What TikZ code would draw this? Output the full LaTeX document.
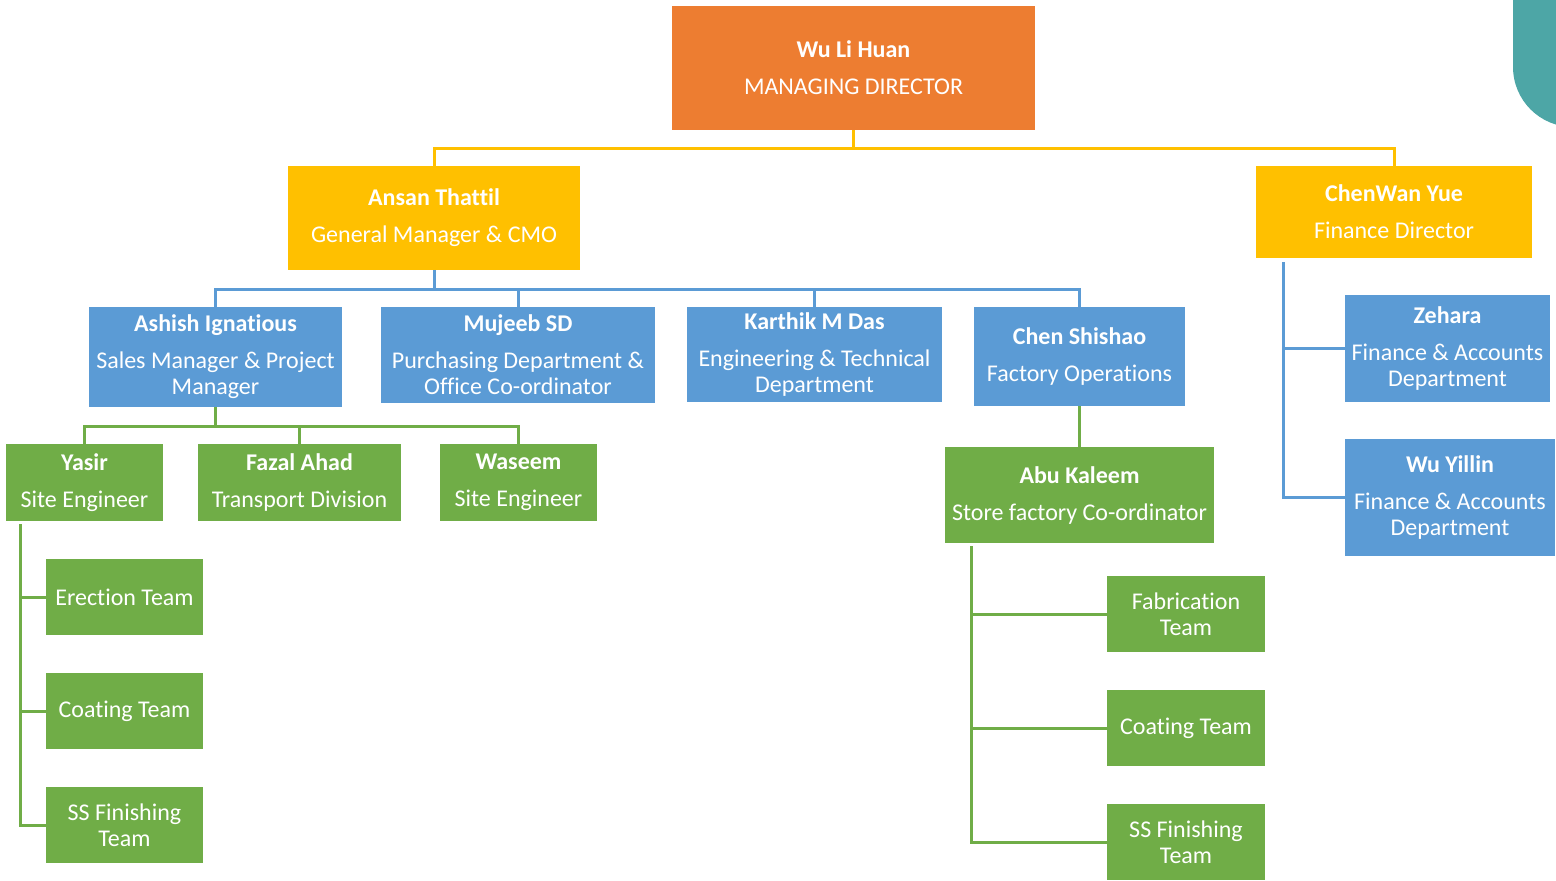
\documentclass[tikz,border=0pt]{standalone}
\usepackage{fontspec}
\setmainfont[Ligatures=NoCommon]{Carlito}
\usepackage{xcolor}
\definecolor{orgorange}{HTML}{ED7D31}
\definecolor{orgyellow}{HTML}{FFC000}
\definecolor{orgblue}{HTML}{5B9BD5}
\definecolor{orggreen}{HTML}{70AD47}
\definecolor{orgteal}{HTML}{4DA6A6}
\tikzset{
	box/.style={text=white,align=center,inner sep=1pt,font=\fontsize{12}{13}\selectfont},
	sz/.style 2 args={minimum width=#1*0.5pt,minimum height=#2*0.5pt},
	link/.style={line width=1.5pt},
}
\begin{document}
\begin{tikzpicture}[x=0.5pt,y=-0.5pt]
	\useasboundingbox (0,0) rectangle (1556,880);
	\begin{scope}
		\clip (0,0) rectangle (1556,880);
		\fill[orgteal] (1513,0) -- (1513,67) arc[start angle=180,end angle=270,radius=30pt]
			-- (1600,127) -- (1600,0) -- cycle;
	\end{scope}

	\node[box,sz={363}{124},fill=orgorange] (md) at (853.5,68) {\textbf{Wu Li Huan}\\[5.5pt]MANAGING DIRECTOR};
	\node[box,sz={292}{104},fill=orgyellow] (ansan) at (434,218) {\textbf{Ansan Thattil}\\[5.5pt]General Manager \& CMO};
	\node[box,sz={276}{92},fill=orgyellow] (chenwan) at (1394,212) {\textbf{ChenWan Yue}\\[5.5pt]Finance Director};

	\node[box,sz={253}{100},fill=orgblue] (ashish) at (215.5,357) {\textbf{Ashish Ignatious}\\[5.5pt]Sales Manager \& Project\\Manager};
	\node[box,sz={274}{96},fill=orgblue] (mujeeb) at (518,355) {\textbf{Mujeeb SD}\\[5.5pt]Purchasing Department \&\\Office Co-ordinator};
	\node[box,sz={255}{95},fill=orgblue] (karthik) at (814.5,354.5) {\textbf{Karthik M Das}\\[5.5pt]Engineering \& Technical\\Department};
	\node[box,sz={211}{99},fill=orgblue] (shishao) at (1079.5,356.5) {\textbf{Chen Shishao}\\[5.5pt]Factory Operations};
	\node[box,sz={205}{107},fill=orgblue] (zehara) at (1447.5,348.5) {\textbf{Zehara}\\[5.5pt]Finance \& Accounts\\Department};
	\node[box,sz={210}{117},fill=orgblue] (yillin) at (1450,497.5) {\textbf{Wu Yillin}\\[5.5pt]Finance \& Accounts\\Department};

	\node[box,sz={157}{77},fill=orggreen] (yasir) at (84.5,482.5) {\textbf{Yasir}\\[5.5pt]Site Engineer};
	\node[box,sz={203}{77},fill=orggreen] (fazal) at (299.5,482.5) {\textbf{Fazal Ahad}\\[5.5pt]Transport Division};
	\node[box,sz={157}{77},fill=orggreen] (waseem) at (518.5,482.5) {\textbf{Waseem}\\[5.5pt]Site Engineer};
	\node[box,sz={269}{96},fill=orggreen] (abu) at (1079.5,495) {\textbf{Abu Kaleem}\\[5.5pt]Store factory Co-ordinator};

	\node[box,sz={157}{76},fill=orggreen] (erection) at (124.5,597) {Erection Team};
	\node[box,sz={157}{76},fill=orggreen] (coatsite) at (124.5,711) {Coating Team};
	\node[box,sz={157}{76},fill=orggreen] (sssite) at (124.5,825) {SS Finishing\\Team};
	\node[box,sz={158}{76},fill=orggreen] (fabrication) at (1186,614) {Fabrication\\Team};
	\node[box,sz={158}{76},fill=orggreen] (coatfac) at (1186,728) {Coating Team};
	\node[box,sz={158}{76},fill=orggreen] (ssfac) at (1186,842) {SS Finishing\\Team};

	\coordinate (ybar) at (853.5,148);
	\coordinate (bbar) at (434,289);
	\coordinate (gbar) at (215.5,426);
	\coordinate (fin) at (1283,262);
	\coordinate (site) at (20,524);
	\coordinate (fac) at (971,546);

	\draw[link,orgyellow] (md.south) -- (ybar) -| (ansan.north);
	\draw[link,orgyellow] (ybar) -| (chenwan.north);

	\draw[link,orgblue] (ansan.south) -- (bbar) -| (ashish.north);
	\foreach \n in {mujeeb,karthik,shishao}
		\draw[link,orgblue] (bbar) -| (\n.north);
	\draw[link,orgblue] (fin) |- (yillin.west);
	\draw[link,orgblue] (fin |- zehara.west) -- (zehara.west);

	\draw[link,orggreen] (ashish.south) -- (gbar) -| (yasir.north);
	\foreach \n in {fazal,waseem}
		\draw[link,orggreen] (gbar) -| (\n.north);
	\draw[link,orggreen] (shishao.south) -- (abu.north);

	\draw[link,orggreen] (site) |- (sssite.west);
	\foreach \n in {erection,coatsite}
		\draw[link,orggreen] (site |- \n.west) -- (\n.west);
	\draw[link,orggreen] (fac) |- (ssfac.west);
	\foreach \n in {fabrication,coatfac}
		\draw[link,orggreen] (fac |- \n.west) -- (\n.west);
\end{tikzpicture}
\end{document}
